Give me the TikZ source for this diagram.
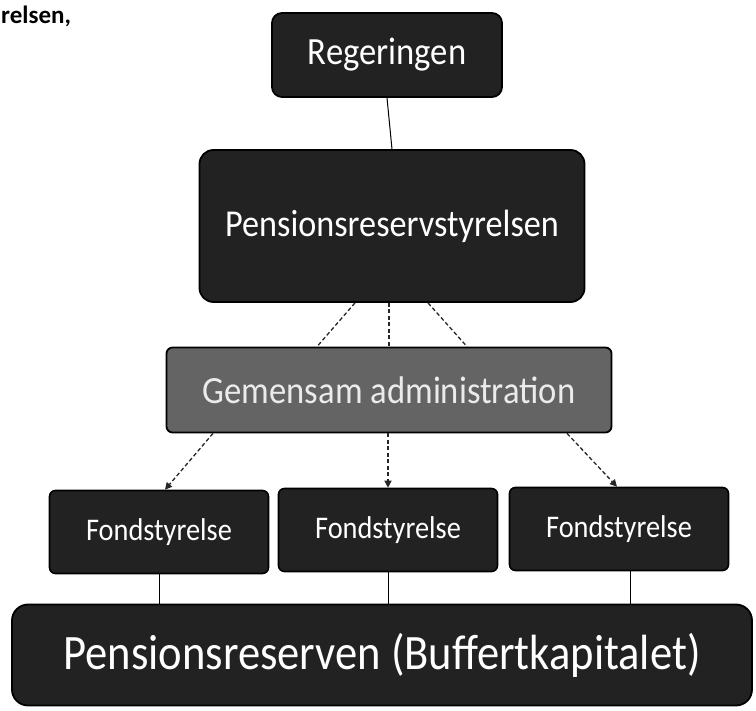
\documentclass[tikz,border=0pt]{standalone}
\usepackage{fontspec}
\setmainfont{Carlito}
\newfontfamily\boxfont[FakeStretch=0.9]{Carlito}
\usetikzlibrary{arrows.meta}

\definecolor{boxdark}{HTML}{222222}
\definecolor{boxmid}{HTML}{646464}

\begin{document}
\begin{tikzpicture}[x=1pt, y=-1pt,
    darkbox/.style={draw=black, line width=1.8pt, fill=boxdark, text=white, inner sep=0pt},
    midbox/.style={draw=black, line width=1.8pt, fill=boxmid, text=white!92!black, inner sep=0pt, rounded corners=6pt},
    fondbox/.style={draw=black, line width=1.6pt, fill=boxdark, text=white, inner sep=0pt, rounded corners=6pt,
        minimum width=219pt, minimum height=83pt, font=\boxfont\fontsize{31.5}{34}\selectfont},
    link/.style={draw=black, line width=1pt},
    dashlink/.style={draw=black!85, line width=1.3pt, dash pattern=on 4pt off 2.5pt}
]
    % Page frame
    \useasboundingbox (0,0) rectangle (756,711);

    % Caption in the corner
    \node[anchor=north west, inner sep=0pt, font=\bfseries\fontsize{25}{28}\selectfont] (caption) at (1,6) {relsen,};

    % Boxes
    \node[darkbox, rounded corners=10pt, minimum width=230pt, minimum height=84pt,
        font=\boxfont\fontsize{38.5}{42}\selectfont] (reg) at (387,55) {Regeringen};
    \node[darkbox, rounded corners=14pt, minimum width=385pt, minimum height=152pt,
        font=\boxfont\fontsize{38}{42}\selectfont] (prs) at (392,226) {Pensionsreservstyrelsen};
    \node[midbox, minimum width=445pt, minimum height=85pt,
        font=\boxfont\fontsize{38.5}{42}\selectfont] (adm) at (389,390) {Gemensam administration};
    \node[fondbox] (fond1) at (159,532) {Fondstyrelse};
    \node[fondbox] (fond2) at (388,530) {Fondstyrelse};
    \node[fondbox] (fond3) at (619,529) {Fondstyrelse};
    \node[darkbox, rounded corners=16pt, minimum width=740pt, minimum height=101pt,
        font=\boxfont\fontsize{49.5}{54}\selectfont] (fund) at (382,655) {Pensionsreserven (Buffertkapitalet)};

    % Solid links
    \draw[link] (reg.south) -- (prs.north);
    \draw[link] (fond1.south) -- (fond1.south |- fund.north);
    \draw[link] (fond2.south) -- (fond2.south |- fund.north);
    \draw[link] ([xshift=11pt]fond3.south) -- ([xshift=11pt]fond3.south |- fund.north);

    % Dashed links to the common administration
    \draw[dashlink] ([xshift=-37pt]prs.south) -- ([xshift=-72pt]adm.north);
    \draw[dashlink] (adm.north |- prs.south) -- (adm.north);
    \draw[dashlink] ([xshift=36pt]prs.south) -- ([xshift=78pt]adm.north);

    % Dashed arrows to the fund boards
    \draw[dashlink, -{Triangle[length=7pt, width=7pt]}] ([xshift=-176pt]adm.south) -- ([xshift=6pt]fond1.north);
    \draw[dashlink, -{Triangle[length=7pt, width=7pt]}] (fond2.north |- adm.south) -- (fond2.north);
    \draw[dashlink, -{Triangle[length=7pt, width=7pt]}] ([xshift=178pt]adm.south) -- ([xshift=-2pt]fond3.north);
\end{tikzpicture}
\end{document}
